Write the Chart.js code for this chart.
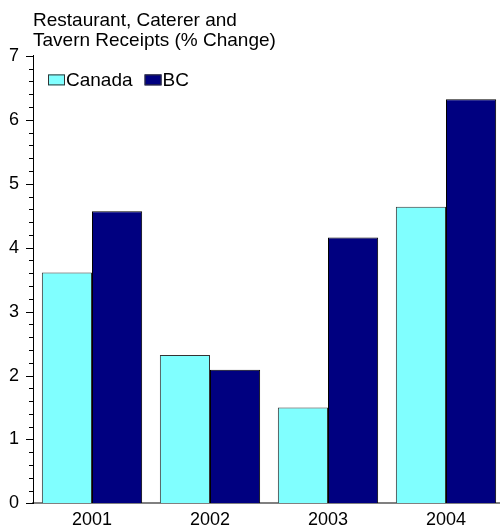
<!DOCTYPE html>
<html>
<head>
<meta charset="utf-8">
<script src="https://cdn.jsdelivr.net/npm/chart.js@4/dist/chart.umd.min.js"></script>
<style>
  html, body { margin: 0; padding: 0; background: #fff; overflow: hidden; }
</style>
</head>
<body>
<canvas id="chart" width="505" height="529"></canvas>
<script>
// data
const years = ['2001', '2002', '2003', '2004'];
const canada = [3.61, 2.32, 1.50, 4.64];
const bc = [4.57, 2.09, 4.16, 6.32];
const titleLines = ['Restaurant, Caterer and', 'Tavern Receipts (% Change)'];

const FONT = '"Liberation Sans", Arial, sans-serif';

// legend drawn inside the plot, top-left, like the original
const insideLegend = {
    id: 'insideLegend',
    afterDraw(chart) {
        const c = chart.ctx;
        const area = chart.chartArea;
        let x = area.left + 15;
        const y = area.top + 24;
        c.save();
        c.font = '19px ' + FONT;
        c.textBaseline = 'middle';
        c.textAlign = 'left';
        chart.data.datasets.forEach(ds => {
            c.fillStyle = ds.backgroundColor;
            c.fillRect(x, y - 5.5, 17, 11);
            c.strokeStyle = '#333';
            c.lineWidth = 1;
            c.strokeRect(x + 0.5, y - 5, 16, 10);
            c.fillStyle = '#000';
            c.fillText(ds.label, x + 18, y + 1);
            x += 18 + c.measureText(ds.label).width + 12;
        });
        c.restore();
    }
};

// short minor ticks on the value axis
const minorTicks = {
    id: 'minorTicks',
    afterDraw(chart) {
        const s = chart.scales.y;
        const c = chart.ctx;
        c.save();
        c.strokeStyle = '#000';
        c.lineWidth = 1;
        s.ticks.forEach(t => {
            const isMajor = Math.abs(t.value - Math.round(t.value)) < 1e-6;
            const len = isMajor ? 7 : 4;
            const py = Math.round(s.getPixelForValue(t.value)) + 0.5;
            c.beginPath();
            c.moveTo(s.right - len, py);
            c.lineTo(s.right, py);
            c.stroke();
        });
        c.restore();
    }
};

const ctx = document.getElementById('chart').getContext('2d');
new Chart(ctx, {
    type: 'bar',
    data: {
        labels: years,
        datasets: [{
            label: 'Canada',
            data: canada,
            backgroundColor: '#80ffff',
            borderColor: '#333333',
            borderWidth: 1,
            borderSkipped: 'bottom'
        }, {
            label: 'BC',
            data: bc,
            backgroundColor: '#000080',
            borderColor: '#000000',
            borderWidth: 1,
            borderSkipped: 'bottom'
        }]
    },
    plugins: [insideLegend, minorTicks],
    options: {
        responsive: false,
        animation: false,
        layout: { padding: { left: 0, right: 0, top: 0, bottom: 0 } },
        datasets: {
            bar: { categoryPercentage: 0.85, barPercentage: 1.0 }
        },
        plugins: {
            title: {
                display: true,
                text: titleLines,
                align: 'start',
                fullSize: false,
                color: '#000',
                font: { family: FONT, size: 19, weight: 'normal', lineHeight: 1.05 },
                padding: { top: 11, bottom: 5 }
            },
            legend: { display: false },
            tooltip: { enabled: false }
        },
        scales: {
            x: {
                grid: { display: false },
                border: { color: '#808080', width: 2 },
                ticks: { color: '#000', font: { family: FONT, size: 18 }, padding: -2 }
            },
            y: {
                min: 0,
                max: 7,
                afterFit: s => { s.width = 33; },
                ticks: {
                    stepSize: 0.2,
                    autoSkip: false,
                    color: '#000',
                    padding: 14,
                    font: { family: FONT, size: 18 },
                    callback: v => Math.abs(v - Math.round(v)) < 1e-6 ? String(Math.round(v)) : ''
                },
                grid: {
                    drawOnChartArea: false,
                    drawTicks: false,
                    tickLength: 7
                },
                border: { color: '#000', width: 1 }
            }
        }
    }
});
</script>
</body>
</html>
